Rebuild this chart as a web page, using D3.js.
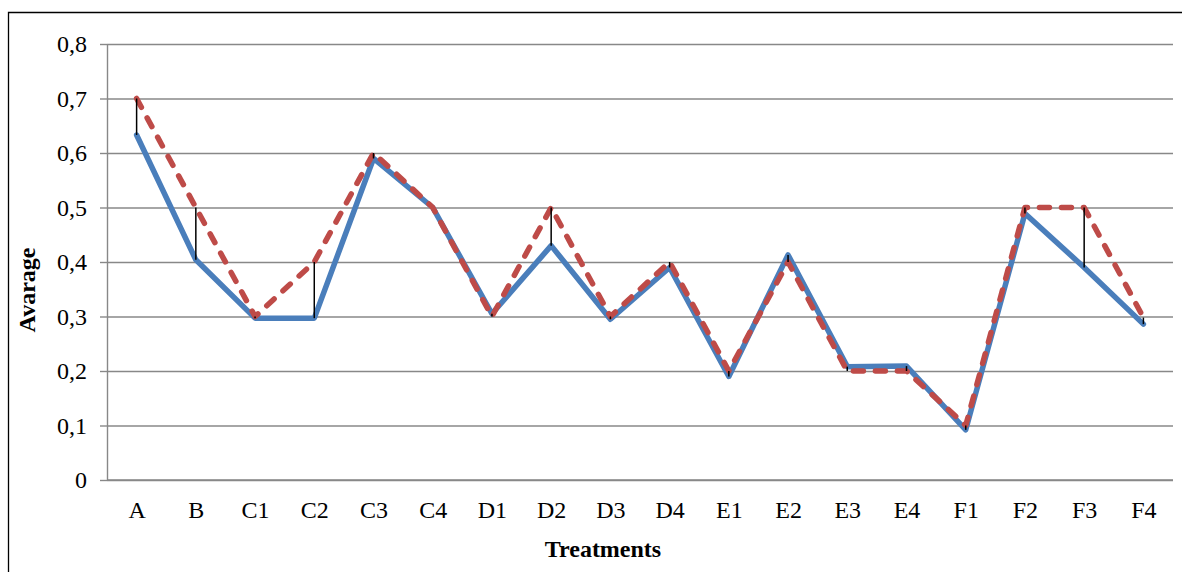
<!DOCTYPE html>
<html>
<head>
  <meta charset="utf-8" />
  <script src="https://d3js.org/d3.v7.min.js"></script>
</head>
<style>
body {
  margin: 0;
  background: #fff;
}
</style>
<body>
<div id="viz"></div>
<script>
'use strict';

const categories = ['A', 'B', 'C1', 'C2', 'C3', 'C4', 'D1', 'D2', 'D3', 'D4',
  'E1', 'E2', 'E3', 'E4', 'F1', 'F2', 'F3', 'F4'];
const solidValues = [0.633, 0.404, 0.297, 0.297, 0.59, 0.5, 0.305, 0.43, 0.295, 0.39,
  0.19, 0.413, 0.208, 0.209, 0.092, 0.489, 0.39, 0.286];
const dashedValues = [0.7, 0.5, 0.3, 0.4, 0.6, 0.5, 0.3, 0.5, 0.3, 0.4,
  0.2, 0.4, 0.2, 0.2, 0.1, 0.5, 0.5, 0.298];
const yTicks = [0, 0.1, 0.2, 0.3, 0.4, 0.5, 0.6, 0.7, 0.8];

const W = 1182, H = 572;
const plot = {left: 107, right: 1173, top: 44, bottom: 480};
const gridColor = '#888';
const serif = 'Liberation Serif, Times New Roman, Times, serif';

const svg = d3.select('#viz').append('svg')
  .attr('width', W)
  .attr('height', H)
  .style('font-family', serif);

// chart frame (only top and left edges are visible in the crop)
svg.append('path')
  .attr('d', `M8.5,${H}V12.5H${W}`)
  .attr('fill', 'none')
  .attr('stroke', '#000')
  .attr('stroke-width', 1.3);

const x = d3.scalePoint()
  .domain(categories)
  .range([plot.left, plot.right])
  .padding(0.5);

const y = d3.scaleLinear()
  .domain([0, 0.8])
  .range([plot.bottom, plot.top]);

// gridlines
svg.append('g')
  .attr('transform', `translate(${plot.left},0)`)
  .call(d3.axisLeft(y).tickValues(yTicks).tickSize(-(plot.right - plot.left)).tickFormat(''))
  .call(g => g.select('.domain').remove())
  .call(g => g.selectAll('line').attr('stroke', gridColor).attr('stroke-width', 1.4));

// y axis with outward ticks
svg.append('g')
  .attr('transform', `translate(${plot.left},0)`)
  .call(d3.axisLeft(y).tickValues(yTicks).tickSize(7).tickSizeOuter(0).tickPadding(13)
    .tickFormat(d => d3.format('.1~f')(d).replace('.', ',')))
  .attr('font-family', serif)
  .call(g => g.select('.domain').attr('stroke', gridColor).attr('stroke-width', 1.4))
  .call(g => g.selectAll('line').attr('stroke', gridColor).attr('stroke-width', 1.4))
  .call(g => g.selectAll('text')
    .attr('font-size', 24)
    .attr('fill', '#000'));

// x axis
svg.append('g')
  .attr('transform', `translate(0,${plot.bottom})`)
  .call(d3.axisBottom(x).tickSize(0).tickSizeOuter(0).tickPadding(21))
  .attr('font-family', serif)
  .call(g => g.select('.domain').attr('stroke', gridColor).attr('stroke-width', 1.4)
    .attr('d', `M${plot.left},0H${plot.right}`))
  .call(g => g.selectAll('text')
    .attr('font-size', 24)
    .attr('fill', '#000'));

const valueLine = d3.line()
  .x((d, i) => x(categories[i]))
  .y(d => y(d));

svg.append('path')
  .datum(solidValues)
  .attr('d', valueLine)
  .attr('fill', 'none')
  .attr('stroke', '#4A7EBB')
  .attr('stroke-width', 5.5)
  .attr('stroke-linejoin', 'round')
  .attr('stroke-linecap', 'round');

svg.append('path')
  .datum(dashedValues)
  .attr('d', valueLine)
  .attr('fill', 'none')
  .attr('stroke', '#BE4B48')
  .attr('stroke-width', 5.5)
  .attr('stroke-dasharray', '10,12')
  .attr('stroke-linejoin', 'round')
  .attr('stroke-linecap', 'round');

// high-low lines
svg.append('g')
  .selectAll('line')
  .data(categories)
  .join('line')
  .attr('x1', d => x(d))
  .attr('x2', d => x(d))
  .attr('y1', (d, i) => y(solidValues[i]))
  .attr('y2', (d, i) => y(dashedValues[i]))
  .attr('stroke', '#000')
  .attr('stroke-width', 1.5);

// axis titles
svg.append('text')
  .attr('x', 603)
  .attr('y', 557)
  .attr('text-anchor', 'middle')
  .attr('font-size', 24)
  .attr('font-weight', 'bold')
  .text('Treatments');

svg.append('text')
  .attr('transform', 'translate(35,290) rotate(-90)')
  .attr('text-anchor', 'middle')
  .attr('font-size', 24)
  .attr('font-weight', 'bold')
  .text('Avarage');
</script>
</body>
</html>
